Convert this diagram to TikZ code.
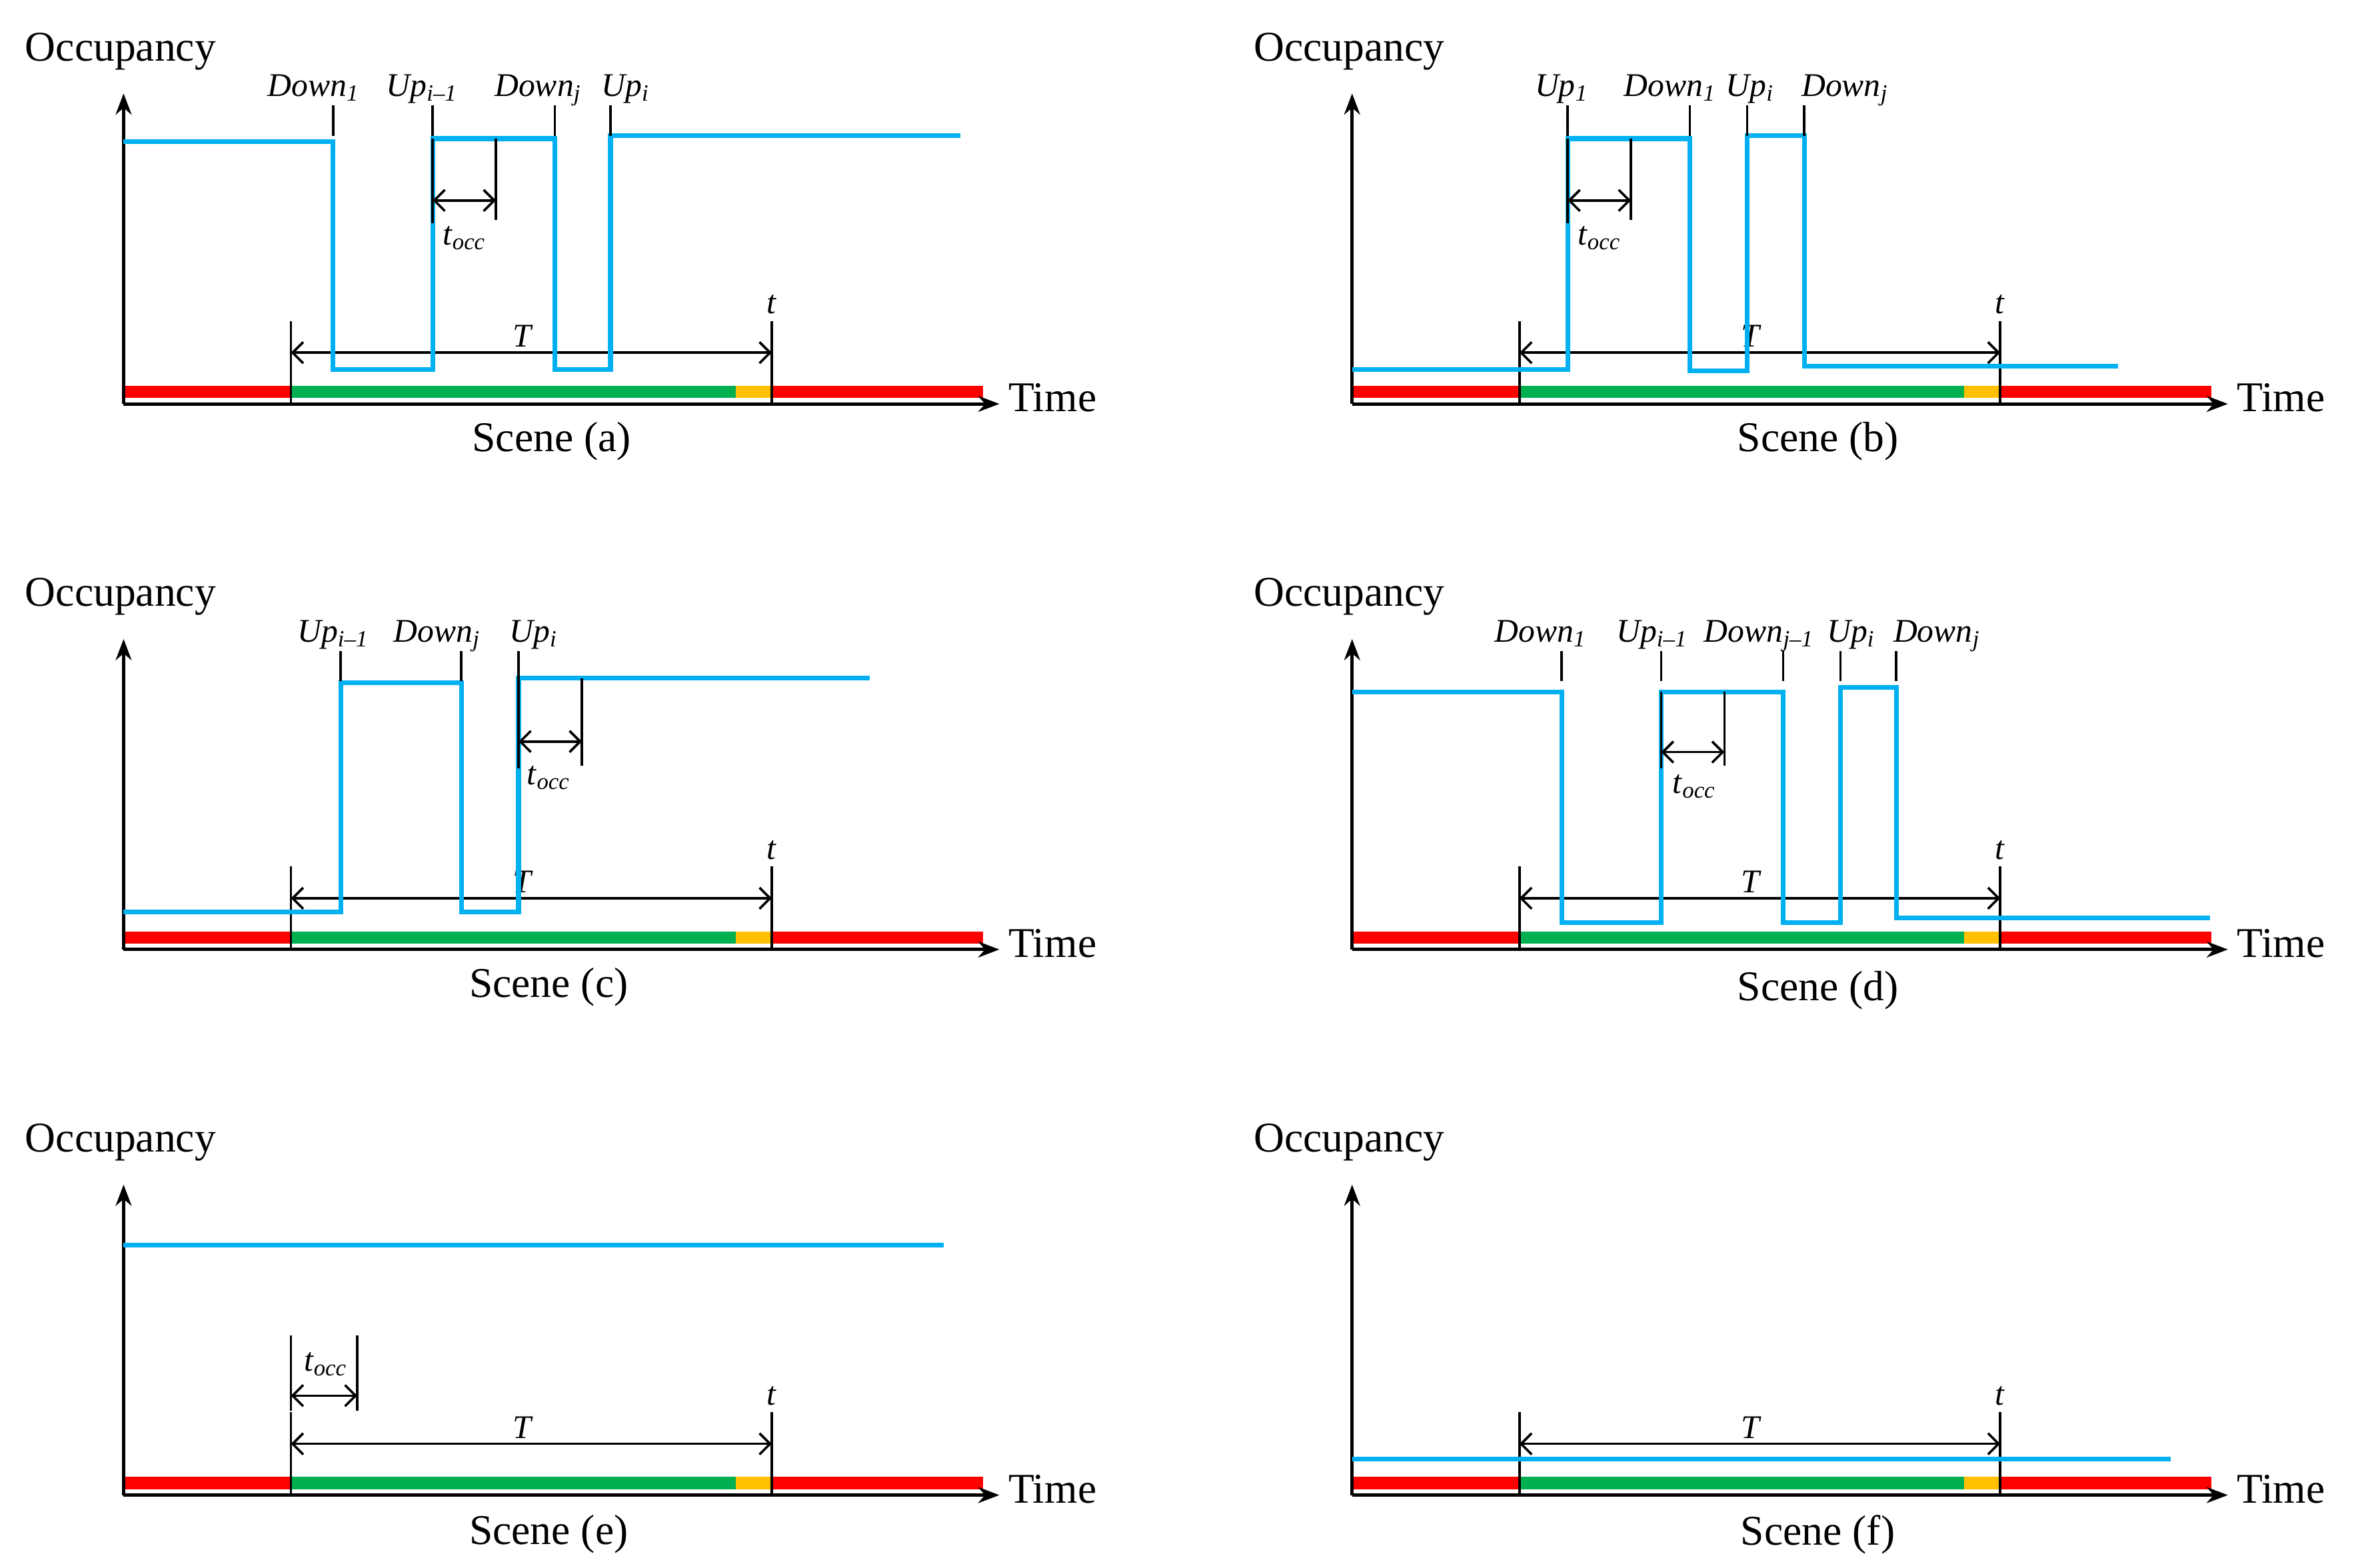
\documentclass[tikz,border=0pt]{standalone}
\usepackage{fontspec}
\setmainfont{Liberation Serif}
\usetikzlibrary{arrows.meta}
\definecolor{sigc}{RGB}{0,176,240}
\definecolor{grn}{RGB}{0,176,80}
\definecolor{ylw}{RGB}{255,192,0}
\newcommand\lab[2]{\textit{#1}\textsubscript{\textit{#2}}}
\begin{document}
\begin{tikzpicture}[x=0.02cm,y=-0.02cm,
  sig/.style={draw=sigc,line width=1.8pt},
  ax/.style={line width=1.3pt,-{Stealth[length=8pt,width=6pt]}},
  tk/.style={line width=0.9pt},
  dim/.style={line width=0.9pt,{Straight Barb[length=4pt]}-{Straight Barb[length=4pt]}},
  lbl/.style={font=\fontsize{12.5}{14}\selectfont,inner sep=1pt},
  big/.style={font=\fontsize{16}{19}\selectfont,inner sep=1pt}]
\useasboundingbox (0,0) rectangle (1563,1040);
\newcommand\panel[3]{%
 \begin{scope}[shift={(#1,#2)}]
  \fill[red] (82,256) rectangle (193,264);
  \fill[grn] (193,256) rectangle (488,264);
  \fill[ylw] (488,256) rectangle (512,264);
  \fill[red] (512,256) rectangle (652,264);
  \coordinate (#3o) at (82,268);
  \coordinate (#3y) at (82,62);
  \coordinate (#3x) at (663,268);
  \draw[ax] (#3o) -- (#3y);
  \draw[ax] (#3o) -- (#3x);
  \node[big,anchor=west] (#3time) at (667,264) {Time};
  \node[big] (#3occ) at (80,34) {Occupancy};
  \coordinate (#3a1) at (193,213); \coordinate (#3a2) at (193,268);
  \coordinate (#3b1) at (512,213); \coordinate (#3b2) at (512,268);
  \draw[tk] (#3a1) -- (#3a2); \draw[tk] (#3b1) -- (#3b2);
  \coordinate (#3T1) at (193,234); \coordinate (#3T2) at (512,234);
  \draw[dim] (#3T1) -- (#3T2);
  \node[lbl] (#3T) at (347,223) {\textit{T}};
  \node[lbl] (#3t) at (512,202) {\textit{t}};
 \end{scope}}
\newcommand\tick[4]{\coordinate (#1a) at (#2,70); \coordinate (#1b) at (#2,90);
  \draw[tk] (#1a) -- (#1b); \node[lbl,anchor=base] (#1l) at (#3,64) {#4};}
\newcommand\tocc[5]{\coordinate (#1p) at (#2,#4); \coordinate (#1q) at (#2,148);
  \coordinate (#1r) at (#3,#4); \coordinate (#1s) at (#3,146);
  \draw[tk] (#1p) -- (#1q); \draw[tk] (#1r) -- (#1s);
  \coordinate (#1u) at (#2,#5); \coordinate (#1v) at (#3,#5);
  \draw[dim] (#1u) -- (#1v);}
% (a)
\panel{0}{0}{A}
\node[big] (capA) at (366,293) {Scene (a)};
\begin{scope}
\draw[sig] (82,94) -- (221,94) -- (221,245) -- (287,245) -- (287,92) -- (368,92) -- (368,245) -- (405,245) -- (405,90) -- (637,90);
\tick{Aa}{221}{208}{\lab{Down}{1}}\tick{Ab}{287}{280}{\lab{Up}{i–1}}\tick{Ac}{368}{357}{\lab{Down}{j}}\tick{Ad}{405}{415}{\lab{Up}{i}}
\tocc{Ae}{287}{329}{92}{133}\node[lbl] (Atocc) at (308,158) {\lab{t}{occ}};
\end{scope}
% (b)
\panel{815}{0}{B}
\node[big] (capB) at (1206,293) {Scene (b)};
\begin{scope}[shift={(815,0)}]
\draw[sig] (82,245) -- (225,245) -- (225,92) -- (306,92) -- (306,246) -- (344,246) -- (344,90) -- (382,90) -- (382,243) -- (590,243);
\tick{Ba}{225}{221}{\lab{Up}{1}}\tick{Bb}{306}{293}{\lab{Down}{1}}\tick{Bc}{344}{346}{\lab{Up}{i}}\tick{Bd}{382}{409}{\lab{Down}{j}}
\tocc{Be}{225}{267}{92}{133}\node[lbl] (Btocc) at (246,158) {\lab{t}{occ}};
\end{scope}
% (c)
\panel{0}{362}{C}
\node[big] (capC) at (364,655) {Scene (c)};
\begin{scope}[shift={(0,362)}]
\draw[sig] (82,243) -- (226,243) -- (226,91) -- (306,91) -- (306,243) -- (344,243) -- (344,88) -- (577,88);
\tick{Ca}{226}{221}{\lab{Up}{i–1}}\tick{Cb}{306}{290}{\lab{Down}{j}}\tick{Cc}{344}{354}{\lab{Up}{i}}
\tocc{Cd}{344}{386}{88}{130}\node[lbl] (Ctocc) at (364,154) {\lab{t}{occ}};
\end{scope}
% (d)
\panel{815}{362}{D}
\node[big] (capD) at (1206,657) {Scene (d)};
\begin{scope}[shift={(815,362)}]
\draw[sig] (82,97) -- (221,97) -- (221,250) -- (287,250) -- (287,97) -- (368,97) -- (368,250) -- (406,250) -- (406,94) -- (443,94) -- (443,247) -- (651,247);
\tick{Da}{221}{207}{\lab{Down}{1}}\tick{Db}{287}{281}{\lab{Up}{i–1}}\tick{Dc}{368}{352}{\lab{Down}{j–1}}\tick{Dd}{406}{413}{\lab{Up}{i}}\tick{De}{443}{470}{\lab{Down}{j}}
\tocc{Df}{287}{329}{97}{137}\node[lbl] (Dtocc) at (309,160) {\lab{t}{occ}};
\end{scope}
% (e)
\panel{0}{724}{E}
\node[big] (capE) at (364,1018) {Scene (e)};
\begin{scope}[shift={(0,724)}]
\draw[sig] (82,102) -- (626,102);
\coordinate (Ep) at (193,162); \coordinate (Eq) at (193,212); \coordinate (Er) at (237,162); \coordinate (Es) at (237,212);
\draw[tk] (Ep) -- (Eq); \draw[tk] (Er) -- (Es);
\coordinate (Eu) at (193,202); \coordinate (Ev) at (237,202);
\draw[dim] (Eu) -- (Ev);
\node[lbl] (Etocc) at (216,181) {\lab{t}{occ}};
\end{scope}
% (f)
\panel{815}{724}{F}
\node[big] (capF) at (1206,1018) {Scene (f)};
\begin{scope}[shift={(815,724)}]
\draw[sig] (82,244) -- (625,244);
\end{scope}
\end{tikzpicture}
\end{document}
